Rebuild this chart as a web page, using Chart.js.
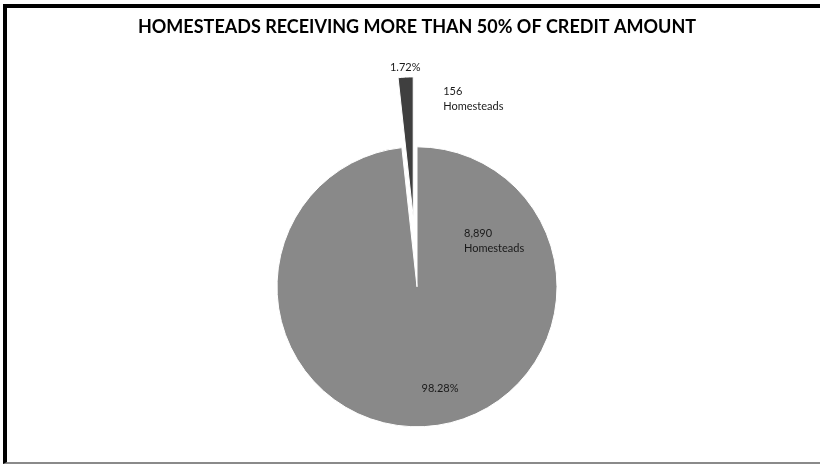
<!DOCTYPE html>
<html>
<head>
<meta charset="utf-8">
<script src="https://cdn.jsdelivr.net/npm/chart.js@4/dist/chart.umd.min.js"></script>
<style>
  html, body { margin: 0; padding: 0; background: #fff; }
  .wrap { position: relative; width: 820px; height: 464px; }
  .frame {
    position: absolute; left: 3px; top: 4px; right: 0; bottom: 0;
    border-top: 4px solid #000; border-left: 4px solid #000;
    border-bottom: 2px solid #8a8a8a;
    pointer-events: none;
  }
  canvas { position: absolute; left: 0; top: 0; }
</style>
</head>
<body>
<div class="wrap">
  <canvas id="pie" width="820" height="464"></canvas>
  <div class="frame"></div>
</div>
<script>
const categories = ["Homesteads", "Homesteads"];
const homesteadCounts = [8890, 156];
const sliceColors = ["#898989", "#3f3f3f"];

const total = homesteadCounts.reduce((a, b) => a + b, 0);
const pct = (v) => (v / total * 100).toFixed(2) + "%";
const fmt = (v) => v.toLocaleString("en-US");

// pull the small slice out of the pie, along its middle angle
const explode = [0, 70];

// label placement relative to each slice's centre
const labelSpots = [
  { pct: [23, 102], cat: [47, -53] },
  { pct: [-8, -149], cat: [30, -125] }
];

const explodePlugin = {
  id: "explode",
  afterDatasetsUpdate(chart) {
    const meta = chart.getDatasetMeta(0);
    meta.data.forEach((arc, i) => {
      const d = explode[i] || 0;
      if (!d) return;
      const mid = (arc.startAngle + arc.endAngle) / 2;
      arc.x += Math.cos(mid) * d;
      arc.y += Math.sin(mid) * d;
    });
  }
};

const labelPlugin = {
  id: "sliceLabels",
  afterDatasetsDraw(chart) {
    const ctx = chart.ctx;
    const meta = chart.getDatasetMeta(0);
    ctx.save();
    ctx.fillStyle = "#1a1a1a";
    ctx.font = "11px Lato";
    ctx.textBaseline = "middle";
    meta.data.forEach((arc, i) => {
      const spot = labelSpots[i];
      const v = homesteadCounts[i];
      ctx.textAlign = "center";
      ctx.fillText(pct(v), arc.x + spot.pct[0], arc.y + spot.pct[1]);
      ctx.textAlign = "left";
      ctx.fillText(fmt(v), arc.x + spot.cat[0], arc.y + spot.cat[1]);
      ctx.fillText(categories[i], arc.x + spot.cat[0], arc.y + spot.cat[1] + 15);
    });
    ctx.restore();
  }
};

new Chart(document.getElementById("pie"), {
  type: "pie",
  data: {
    labels: categories,
    datasets: [{
      data: homesteadCounts,
      backgroundColor: sliceColors,
      borderColor: "#ffffff",
      borderWidth: 1
    }]
  },
  options: {
    responsive: false,
    animation: false,
    radius: 140,
    layout: { padding: { left: 14, bottom: 0 } },
    plugins: {
      legend: { display: false },
      tooltip: { enabled: false },
      title: {
        display: true,
        text: "HOMESTEADS RECEIVING MORE THAN 50% OF CREDIT AMOUNT",
        color: "#000",
        font: { family: "Lato", size: 18, weight: "bold" },
        padding: { top: 16, bottom: 72 }
      }
    }
  },
  plugins: [explodePlugin, labelPlugin]
});
</script>
</body>
</html>
